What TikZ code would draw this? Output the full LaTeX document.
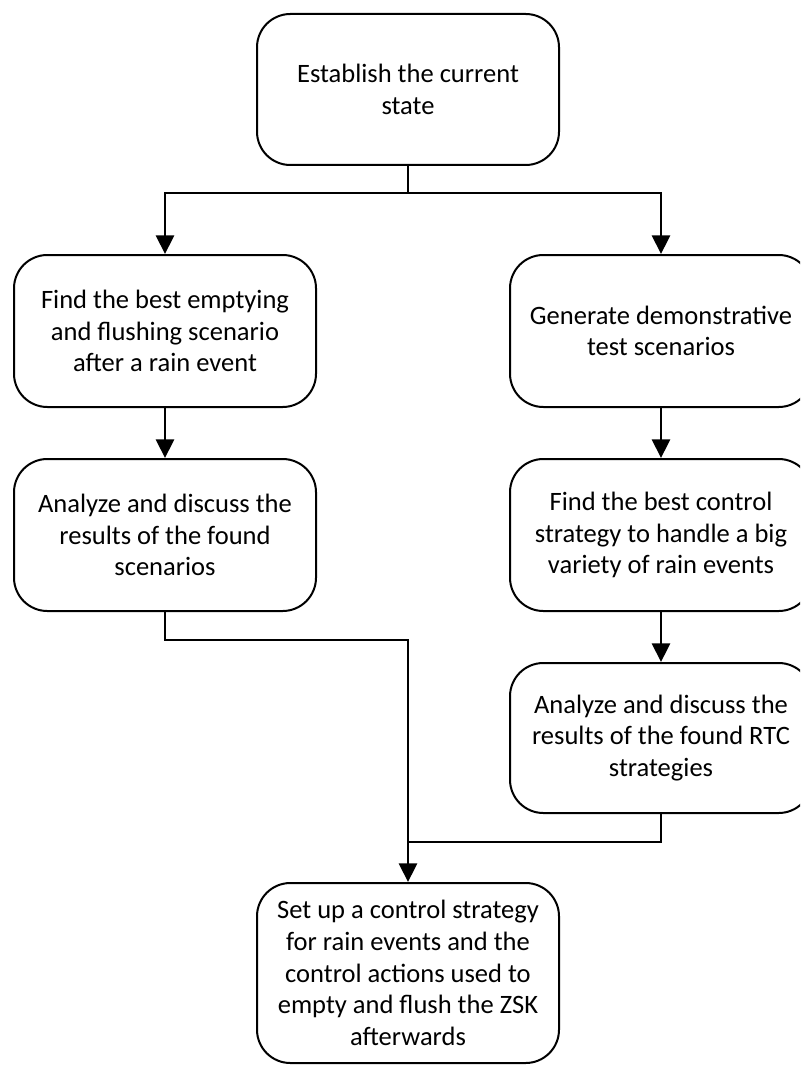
\documentclass[tikz,border=0pt]{standalone}
\usepackage{fontspec}
\setmainfont{Carlito}
\usetikzlibrary{arrows.meta}
\tikzset{
  box/.style={draw, line width=1.5pt, rounded corners=25pt,
    minimum width=226.5pt, minimum height=114pt, align=center, inner sep=0pt,
    font=\fontsize{19.9}{23.8}\selectfont},
  conn/.style={line width=2.2pt},
  arr/.style={conn, -{Triangle[width=13.5pt,length=14pt]}}
}
\begin{document}
\begin{tikzpicture}[x=0.75pt, y=-0.75pt]
  \clip (0,0) rectangle (800,1066);
  \fill[white] (0,0) rectangle (800,1066);

  % process steps
  \node[box, minimum height=113.25pt] (top) at (408,89.5) {Establish the current\\state};
  \node[box] (l1) at (165,331) {Find the best emptying\\and flushing scenario\\after a rain event};
  \node[box] (l2) at (165,535) {Analyze and discuss the\\results of the found\\scenarios};
  \node[box] (r1) at (661,331) {Generate demonstrative\\test scenarios};
  \node[box] (r2) at (661,535) {Find the best control\\strategy to handle a big\\variety of rain events};
  \node[box, minimum height=112.5pt] (r3) at (661,738) {Analyze and discuss the\\results of the found RTC\\strategies};
  \node[box, minimum height=135pt] (bot) at (408,973) {Set up a control strategy\\for rain events and the\\control actions used to\\empty and flush the ZSK\\afterwards};

  % branching from the first step
  \coordinate (split) at (408,193);
  \draw[conn] (top.south) -- (split);
  \draw[arr] (split) -| (l1.north);
  \draw[arr] (split) -| (r1.north);

  % left and right chains
  \draw[arr] (l1.south) -- (l2.north);
  \draw[arr] (r1.south) -- (r2.north);
  \draw[arr] (r2.south) -- (r3.north);

  % merging into the final step
  \coordinate (rjoin) at (408,842);
  \draw[arr] (l2.south) -- ++(0,28) -| (bot.north);
  \draw[conn] (r3.south) |- (rjoin);
\end{tikzpicture}
\end{document}
